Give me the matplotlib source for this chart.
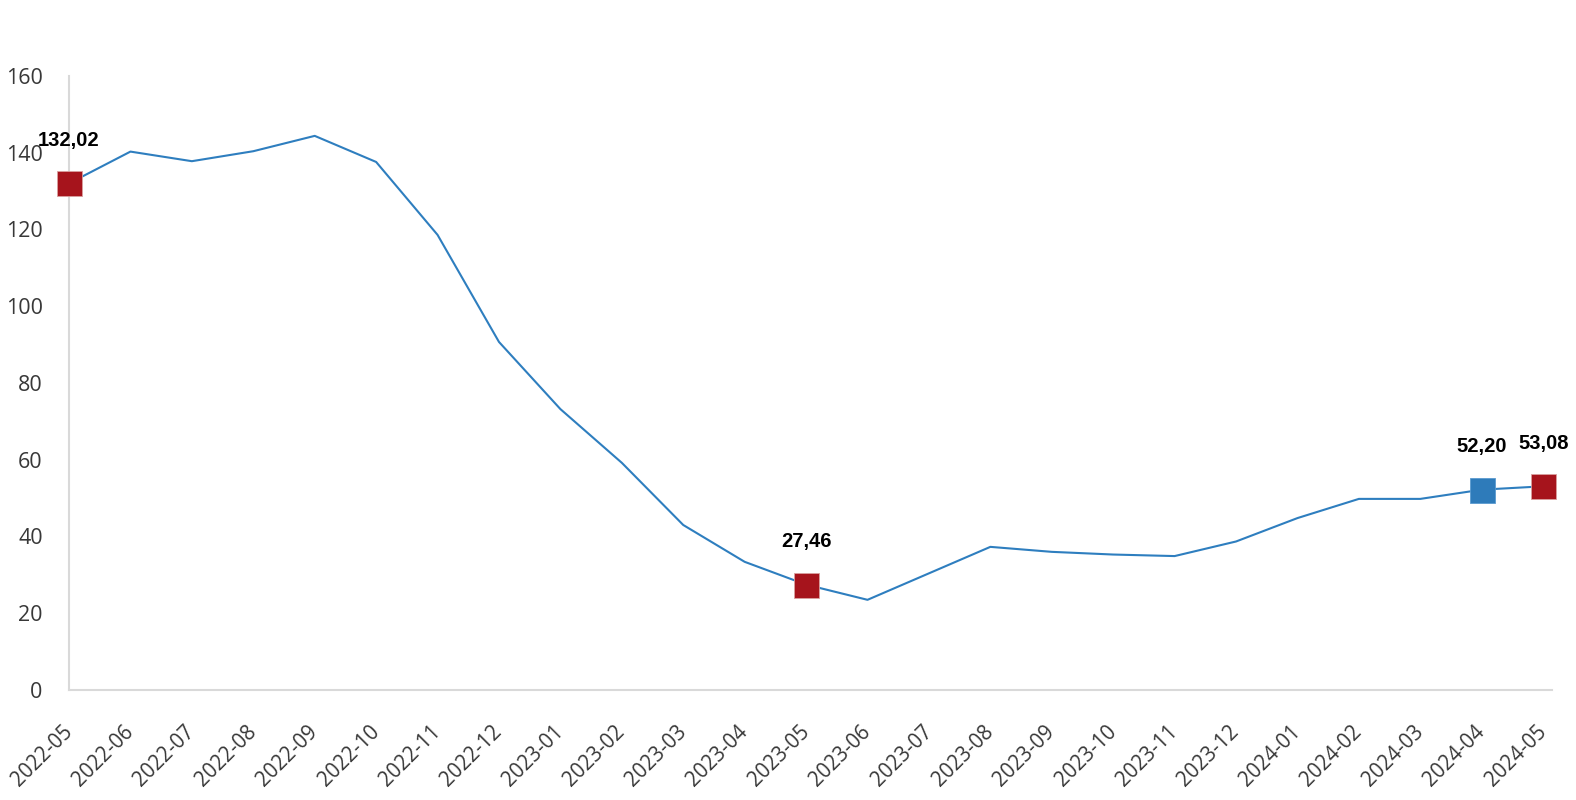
import matplotlib.pyplot as plt
import matplotlib.transforms as mtransforms

months = ['2022-05', '2022-06', '2022-07', '2022-08', '2022-09', '2022-10', '2022-11',
          '2022-12', '2023-01', '2023-02', '2023-03', '2023-04', '2023-05', '2023-06',
          '2023-07', '2023-08', '2023-09', '2023-10', '2023-11', '2023-12', '2024-01',
          '2024-02', '2024-03', '2024-04', '2024-05']
values = [132.02, 140.3, 137.8, 140.4, 144.4, 137.6, 118.6, 90.7, 73.2, 59.2, 43.0, 33.4,
          27.46, 23.5, 30.4, 37.3, 36.0, 35.3, 34.9, 38.7, 44.8, 49.8, 49.8, 52.20, 53.08]

# highlighted points: index, colour
marked = [(0, '#A6141C'), (12, '#A6141C'), (23, '#2E7BBA'), (24, '#A6141C')]
yticks = [0, 20, 40, 60, 80, 100, 120, 140, 160]

fig = plt.figure(figsize=(15.76, 8), dpi=100)
ax = fig.add_axes([0.0438, 0.1375, 0.9412, 0.7675])

x = list(range(len(months)))
ax.plot(x, values, color='#2E7EBF', lw=1.5, zorder=2)

for i, col in marked:
    ax.plot(x[i], values[i], marker='s', ms=18, color=col,
            mec='#d9a0a0' if col != '#2E7BBA' else '#5a9ad0',
            mew=0.6, zorder=3, clip_on=False)
    lab = f'{values[i]:.2f}'.replace('.', ',')
    ax.annotate(lab, (x[i], values[i]), xytext=(0, 24), textcoords='offset points',
                ha='center', va='bottom', fontsize=14.5, fontweight='bold',
                family='Liberation Sans', color='black', annotation_clip=False)

ax.set_xlim(0, 24.15)
ax.set_ylim(0, 160)
ax.set_yticks(yticks)
ax.set_xticks(x)
ax.set_xticklabels(months, rotation=45, ha='right', va='center', rotation_mode='anchor',
                   fontsize=14.8, family='Open Sans', color='#383838')
shift = mtransforms.ScaledTranslation(0.15, 0, fig.dpi_scale_trans)
for t in ax.get_xticklabels():
    t.set_transform(t.get_transform() + shift)
for t in ax.get_yticklabels():
    t.set_fontsize(15.5)
    t.set_family('Open Sans')
    t.set_color('#383838')

for s in ['top', 'right']:
    ax.spines[s].set_visible(False)
for s in ['left', 'bottom']:
    ax.spines[s].set_color('#d9d9d9')
    ax.spines[s].set_linewidth(1.5)
ax.tick_params(length=0)
ax.tick_params(axis='x', pad=28)
ax.tick_params(axis='y', pad=19)

fig.savefig('out.png', dpi=100)
